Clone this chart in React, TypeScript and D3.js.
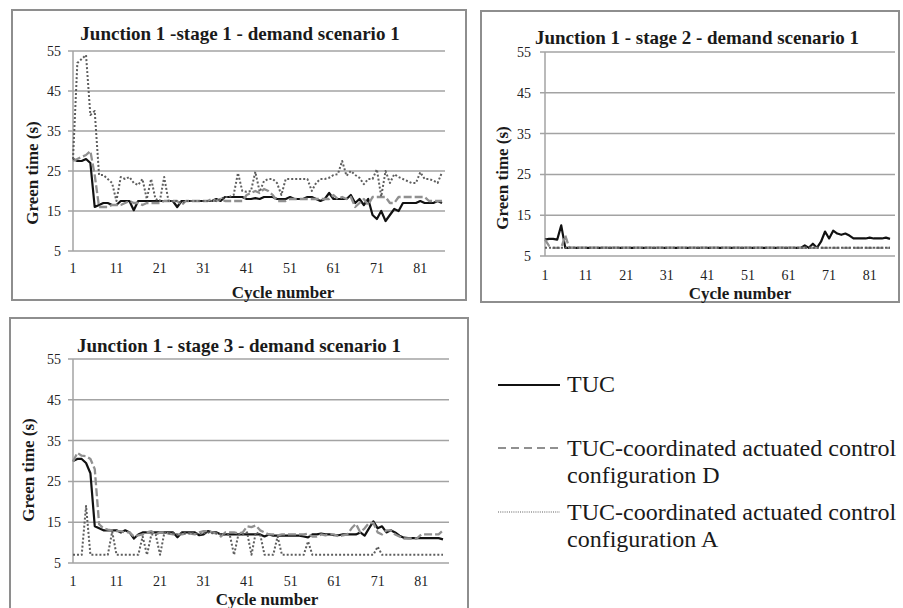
import React from 'react';
import * as d3 from 'd3';

// cycle numbers (x categories) and axis ticks
const cycles = d3.range(1, 87);
const xTicks = [1, 11, 21, 31, 41, 51, 61, 71, 81];
const yTicks = [5, 15, 25, 35, 45, 55];

const titles = [
    'Junction 1 -stage 1 - demand scenario 1',
    'Junction 1 - stage 2 - demand scenario 1',
    'Junction 1 - stage 3 - demand scenario 1',
];

const legendLabels = [
    ['TUC'],
    ['TUC-coordinated actuated control', 'configuration D'],
    ['TUC-coordinated actuated control', 'configuration A'],
];

// stage 1
const tuc1 = [28, 27.5, 27.5, 28, 27, 16, 16.5, 17, 17, 16.5,
    16.5, 17.5, 17.5, 17.5, 15.2, 17.5, 17.5, 17.5, 17.5, 17.5,
    17.5, 17.5, 17.5, 17.5, 16, 17.5, 17.5, 17.5, 17.5, 17.5,
    17.5, 17.5, 17.5, 18, 17.5, 18.5, 18.5, 18.5, 18.5, 18.5,
    18, 18, 18.2, 18, 18.5, 18.5, 18.5, 18, 18, 18,
    18.5, 18, 18, 18, 18.5, 18.5, 18, 17.5, 18, 19.5,
    18, 18, 18, 18, 19, 17, 18, 16.5, 18, 14,
    13, 15, 12.5, 14, 15.5, 15, 17, 17, 17, 17,
    17.5, 17, 17, 17, 17.5, 17];
const confD1 = [27.5, 28, 28.5, 29, 30, 24, 16, 16, 16, 16.5,
    16.5, 16.5, 17, 17.5, 17, 17, 16.5, 17, 17, 17,
    17, 17.5, 17.5, 17.5, 17.5, 16.5, 17.5, 17.5, 17.5, 17.5,
    17.5, 17.5, 18, 17.5, 18, 17.5, 17.5, 17.5, 17.5, 17.5,
    19, 19.5, 20, 19.5, 20.5, 20, 19, 17.5, 17.5, 17.5,
    18, 18, 18, 18, 18, 18, 18, 18, 18, 18,
    19, 18, 18.5, 18, 18.5, 16, 17, 18, 16.5, 18.5,
    18.5, 18.5, 18.5, 17, 17, 18.5, 18.5, 18.5, 18.5, 18.5,
    18.5, 18.5, 17.5, 17.5, 17.5, 17.5];
const confA1 = [28, 52, 53, 54, 39, 40, 24, 24, 23, 22,
    17.5, 23.5, 23, 23.5, 22, 21.5, 23, 18, 23, 18,
    17.5, 23.5, 17.5, 17.5, 17.5, 17, 17.5, 17.5, 17.5, 17.5,
    17.5, 17.5, 17.5, 17.5, 18, 18.5, 18.5, 19, 24.5, 20,
    19.8, 20, 24.8, 19.8, 22.5, 23, 23, 22, 19, 23,
    23, 23, 23, 23, 23, 20, 22, 23, 23, 23.3,
    24, 24.2, 27.5, 23.8, 25, 24, 23.3, 21.7, 23, 23,
    25.4, 18.6, 25, 22, 24.2, 23.5, 23, 22.5, 22, 22,
    24.7, 23, 23, 22.6, 22, 24.7];

// stage 2
const tuc2 = [9, 9.2, 9.2, 9, 12.5, 7, 7, 7, 7, 7,
    7, 7, 7, 7, 7, 7, 7, 7, 7, 7,
    7, 7, 7, 7, 7, 7, 7, 7, 7, 7,
    7, 7, 7, 7, 7, 7, 7, 7, 7, 7,
    7, 7, 7, 7, 7, 7, 7, 7, 7, 7,
    7, 7, 7, 7, 7, 7, 7, 7, 7, 7,
    7, 7, 7, 7, 7.6, 7, 8, 7, 8.5, 11,
    9.3, 11.2, 10.5, 10.2, 10.5, 10, 9.3, 9.3, 9.3, 9.3,
    9.5, 9.3, 9.3, 9.3, 9.5, 9.2];
const confD2 = [9, 7.5, 7, 7, 7, 10, 7, 7, 7, 7,
    7, 7, 7, 7, 7, 7, 7, 7, 7, 7,
    7, 7, 7, 7, 7, 7, 7, 7, 7, 7,
    7, 7, 7, 7, 7, 7, 7, 7, 7, 7,
    7, 7, 7, 7, 7, 7, 7, 7, 7, 7,
    7, 7, 7, 7, 7, 7, 7, 7, 7, 7,
    7, 7, 7, 7, 7, 7, 7, 7, 7, 7,
    7, 7, 7, 7, 7, 7, 7, 7, 7, 7,
    7, 7, 7, 7, 7, 7];
const confA2 = [7, 7, 7, 7, 7, 7, 7, 7, 7, 7,
    7, 7, 7, 7, 7, 7, 7, 7, 7, 7,
    7, 7, 7, 7, 7, 7, 7, 7, 7, 7,
    7, 7, 7, 7, 7, 7, 7, 7, 7, 7,
    7, 7, 7, 7, 7, 7, 7, 7, 7, 7,
    7, 7, 7, 7, 7, 7, 7, 7, 7, 7,
    7, 7, 7, 7, 7, 7, 7, 7, 7, 7,
    7, 7, 7, 7, 7, 7, 7, 7, 7, 7,
    7, 7, 7, 7, 7, 7];

// stage 3
const tuc3 = [30, 30.5, 30.5, 29.5, 27, 14, 13.5, 13, 13, 13,
    13, 12.5, 13, 12.5, 11, 12, 12.5, 12.5, 12.5, 12.5,
    12.5, 12.5, 12.5, 12.5, 11.3, 12.5, 12.5, 12.5, 12.5, 11.8,
    12, 12.8, 12.5, 12.5, 12, 12, 12, 12, 12, 12,
    12, 12, 12, 12, 11.5, 12, 11.7, 11.7, 11.7, 11.7,
    11.7, 11.7, 11.7, 11.5, 11.3, 12, 12, 12.2, 12, 12,
    11.8, 11.8, 12, 12, 12, 12, 12.5, 11.7, 13.5, 15.2,
    13.5, 14, 12.5, 13, 12.5, 11.7, 11.2, 11.1, 11.1, 11.1,
    11.1, 11.1, 11.1, 11.1, 11.1, 10.8];
const confD3 = [29.8, 32, 31.3, 31.2, 30.5, 28, 14.5, 13.5, 13.2, 13,
    12.8, 12.8, 12.5, 12.5, 11.5, 11.8, 12, 12.5, 12.8, 12,
    12.5, 12.5, 12.2, 12, 12, 12, 12.2, 12.2, 12, 12.5,
    12.8, 12.8, 12.5, 12.2, 11.5, 12.5, 12.5, 12.5, 12.2, 12.5,
    14, 13.8, 14.2, 13, 12.5, 12, 12, 11.8, 12, 12,
    12, 12, 12, 12, 12.2, 11.5, 11.5, 12, 11.8, 12,
    12, 11.5, 11.8, 12, 13.5, 14.6, 12.5, 13.5, 14.8, 14.8,
    12.5, 12, 13, 13, 12, 11.5, 11, 11, 11, 11,
    12, 12, 12, 12, 12, 13];
const confA3 = [7, 7, 7, 19, 7, 7, 7, 7, 7, 12.7,
    7, 7, 7, 7, 7, 7, 11.5, 7, 12, 12,
    7, 12.5, 12.3, 12.3, 12, 12.3, 12.3, 12.3, 12.3, 12,
    12.3, 12.5, 12.3, 12.3, 12, 12, 12, 7, 12, 12,
    12.5, 7, 12.5, 12, 7, 7, 7, 11.5, 7, 7,
    7, 7, 7, 7, 10.3, 7, 7, 7, 7, 7,
    7, 7, 7, 7, 7, 7, 7, 7, 7, 7,
    9, 7, 7, 7, 7, 7, 7, 7, 7, 7,
    7, 7, 7, 7, 7, 7];

const FONT = "'Liberation Serif', 'Times New Roman', serif";
const GRID = '#a3a3a3';
const BORDER = '#8e8e8e';

const styles = {
    tuc: { stroke: '#111', width: 2.2, dash: null },
    confD: { stroke: '#909090', width: 2.3, dash: '8,3' },
    confA: { stroke: '#5e5e5e', width: 2, dash: '2,2' },
};

const Panel = ({ box, cfg, title, tuc, confD, confA }) => {
    // scales
    const x = d3.scaleLinear().domain([1, 86]).range([cfg.x0, cfg.x1]);
    const y = d3.scaleLinear().domain([5, 55]).range([cfg.yBot, cfg.yTop]);
    const line = d3.line().x((d, i) => x(cycles[i])).y(d => y(d));

    const series = [
        { data: tuc, st: styles.tuc },
        { data: confD, st: styles.confD },
        { data: confA, st: styles.confA },
    ];

    return (
        <g>
            <rect x={box.x} y={box.y} width={box.w} height={box.h} fill="white" stroke={BORDER} strokeWidth={2} />
            {/* gridlines + y ticks */}
            {yTicks.map(t => (
                <g key={t}>
                    <line x1={cfg.x0 - 5} x2={cfg.gridEnd} y1={y(t)} y2={y(t)} stroke={GRID} strokeWidth={1.5} />
                    <text x={cfg.yTickX} y={y(t)} dy="0.35em" textAnchor="end" fontSize={cfg.tickSize} fill="#222">{t}</text>
                </g>
            ))}
            <line x1={cfg.x0} x2={cfg.x0} y1={cfg.yTop} y2={cfg.yBot} stroke={GRID} strokeWidth={1.5} />
            {xTicks.map(t => (
                <text key={t} x={x(t)} y={cfg.xTickY} textAnchor="middle" fontSize={cfg.tickSize} fill="#222">{t}</text>
            ))}
            {series.map((s, i) => (
                <path key={i} d={line(s.data)} fill="none" stroke={s.st.stroke} strokeWidth={s.st.width}
                    strokeDasharray={s.st.dash || undefined} strokeLinejoin="round" />
            ))}
            <text x={cfg.titleX} y={cfg.titleY} textAnchor="middle" fontSize={19} fontWeight="bold" fill="#1a1a1a">{title}</text>
            <text transform={`translate(${cfg.yTitleX},${cfg.yTitleY}) rotate(-90)`} dy="0.35em" textAnchor="middle"
                fontSize={17} fontWeight="bold" fill="#1a1a1a">Green time (s)</text>
            <text x={cfg.xTitleX} y={cfg.xTitleY} textAnchor="middle" fontSize={17} fontWeight="bold" fill="#1a1a1a">Cycle number</text>
        </g>
    );
};

const Legend = () => {
    const items = [
        { st: styles.tuc, y: 385, textY: 392, dash: null, w: 2.2 },
        { st: styles.confD, y: 448, textY: 456, dash: '8,5', w: 2 },
        { st: styles.confA, y: 512, textY: 520, dash: '1,1.2', w: 1.2 },
    ];
    return (
        <g fontSize={24} fill="#1a1a1a">
            {items.map((it, i) => (
                <g key={i}>
                    <line x1={498} x2={560} y1={it.y} y2={it.y} stroke={it.st.stroke} strokeWidth={it.w}
                        strokeDasharray={it.dash || undefined} />
                    {legendLabels[i].map((l, j) => (
                        <text key={j} x={567} y={it.textY + j * 27}>{l}</text>
                    ))}
                </g>
            ))}
        </g>
    );
};

export default function App() {
    const p1 = { x0: 73, x1: 442, gridEnd: 445, yTop: 51, yBot: 251, yTickX: 61, tickSize: 14, xTickY: 273,
        titleX: 240, titleY: 40, yTitleX: 32, yTitleY: 173, xTitleX: 283, xTitleY: 298 };
    const p2 = { x0: 545, x1: 890, gridEnd: 895, yTop: 52, yBot: 256, yTickX: 531, tickSize: 14, xTickY: 280,
        titleX: 697, titleY: 44, yTitleX: 502, yTitleY: 178, xTitleX: 740, xTitleY: 299 };
    const p3 = { x0: 73, x1: 443, gridEnd: 449, yTop: 359, yBot: 563, yTickX: 61, tickSize: 14, xTickY: 586,
        titleX: 239, titleY: 352, yTitleX: 28, yTitleY: 470, xTitleX: 267, xTitleY: 605 };

    return (
        <svg width={903} height={608} style={{ position: 'absolute', left: 0, top: 0, background: 'white' }}
            fontFamily={FONT}>
            <Panel box={{ x: 12, y: 10, w: 454, h: 290 }} cfg={p1} title={titles[0]} tuc={tuc1} confD={confD1} confA={confA1} />
            <Panel box={{ x: 481, y: 11, w: 418, h: 291 }} cfg={p2} title={titles[1]} tuc={tuc2} confD={confD2} confA={confA2} />
            <Panel box={{ x: 10, y: 318, w: 458, h: 300 }} cfg={p3} title={titles[2]} tuc={tuc3} confD={confD3} confA={confA3} />
            <Legend />
        </svg>
    );
}
